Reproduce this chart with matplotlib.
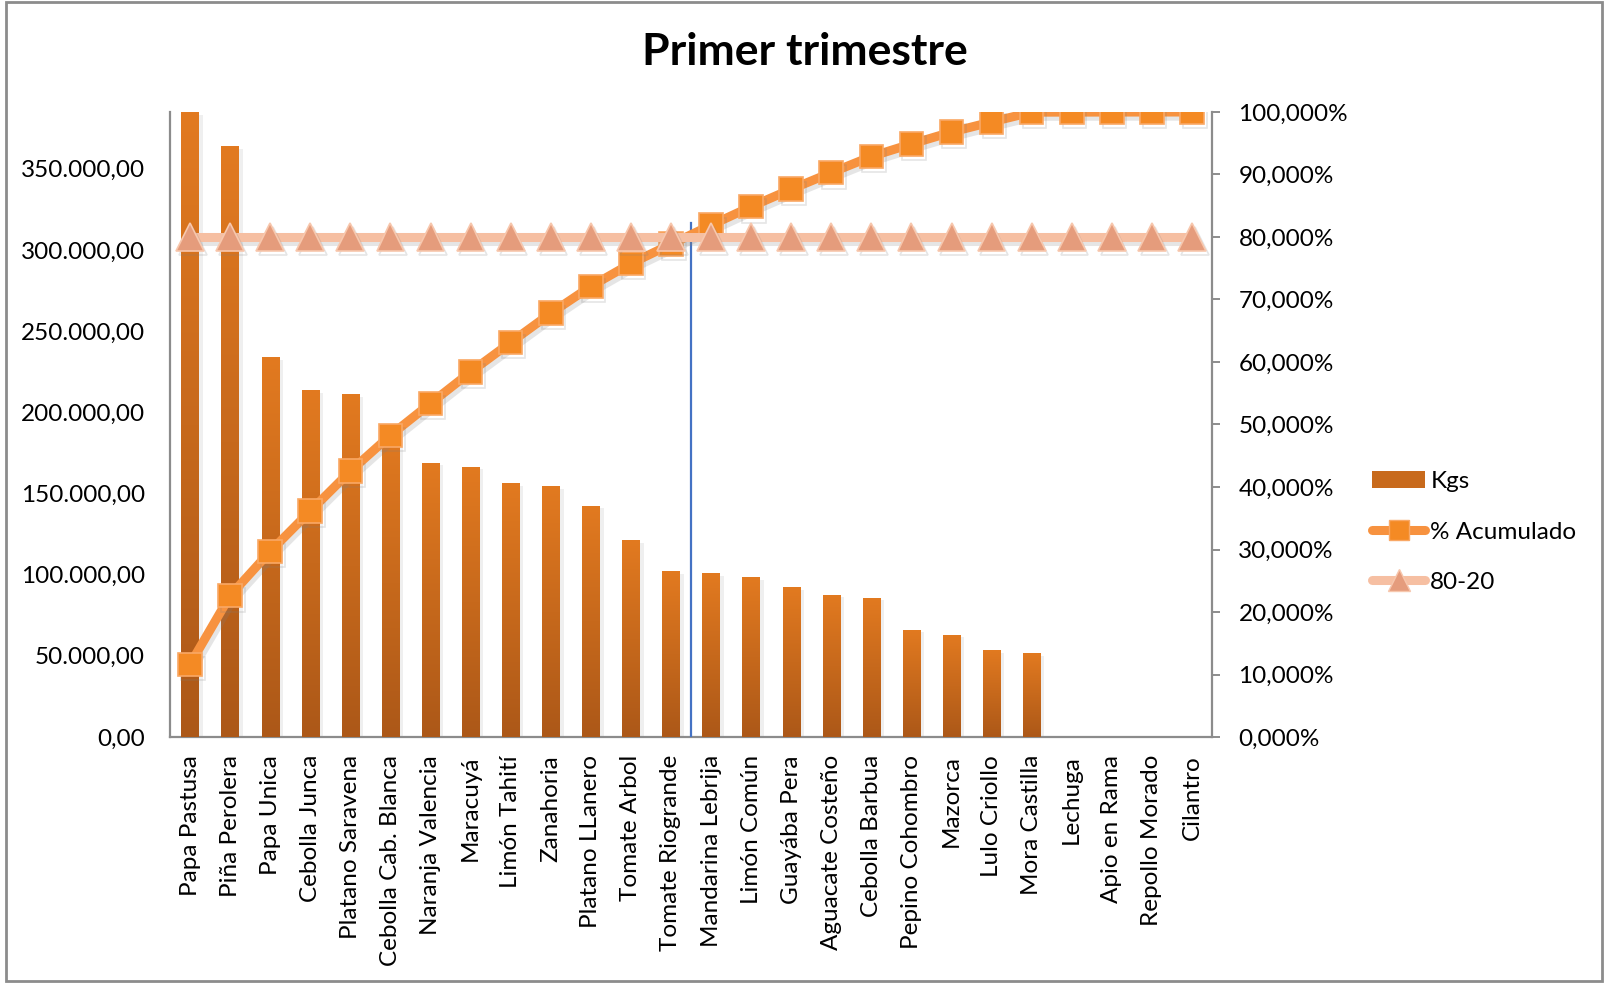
import numpy as np
import matplotlib
matplotlib.use("Agg")
import matplotlib.pyplot as plt
from matplotlib import patheffects as pe
from matplotlib.colors import LinearSegmentedColormap
from matplotlib.patches import Rectangle
from matplotlib.lines import Line2D
from matplotlib.ticker import FuncFormatter, MultipleLocator

plt.rcParams["font.family"] = ["Lato", "DejaVu Sans"]

# ---- data -------------------------------------------------------------
productos = [
    "Papa Pastusa", "Piña Perolera", "Papa Unica", "Cebolla Junca",
    "Platano Saravena", "Cebolla Cab. Blanca", "Naranja Valencia", "Maracuyá",
    "Limón Tahití", "Zanahoria", "Platano LLanero", "Tomate Arbol",
    "Tomate Riogrande", "Mandarina Lebrija", "Limón Común", "Guayába Pera",
    "Aguacate Costeño", "Cebolla Barbua", "Pepino Cohombro", "Mazorca",
    "Lulo Criollo", "Mora Castilla", "Lechuga", "Apio en Rama",
    "Repollo Morado", "Cilantro",
]
kgs = [
    385000, 364000, 234000, 213800, 211200, 190000, 169000, 166500,
    156400, 154500, 142500, 121100, 102200, 100900, 98400, 92100,
    87700, 85800, 66200, 63100, 53600, 51700, 300, 250, 200, 150,
]
regla_80_20 = [80.0] * len(productos)
corte_pct = 82.3          # height of the cut-off marker line (in %)
corte_pos = 12.5          # between "Tomate Riogrande" and "Mandarina Lebrija"

kgs_max = 385000
pct_ticks_step = 10
kgs_ticks_step = 50000

# Pareto cumulative share of each product
acumulado = np.cumsum(kgs) / np.sum(kgs) * 100.0

# ---- colours ----------------------------------------------------------
bar_top = "#E27A20"
bar_bottom = "#AC5818"
acum_line = "#F7923F"
acum_face = "#F48A24"
acum_edge = "#F9A865"
regla_line = "#F6BFA2"
regla_face = "#E59C7C"
regla_edge = "#F7C7AD"
axis_grey = "#8C8C8C"
corte_blue = "#4472C4"

W, H = 1604, 983
fig = plt.figure(figsize=(W / 100, H / 100), dpi=100)
fig.patch.set_facecolor("white")

x0, x1, y_top, y_bot = 170, 1212, 112, 737
ax = fig.add_axes([x0 / W, 1 - y_bot / H, (x1 - x0) / W, (y_bot - y_top) / H])
ax2 = ax.twinx()

x = np.arange(len(productos))
bar_w = 0.43
fs = 17.5

# bars with a soft drop shadow and a vertical gradient fill
bars = ax.bar(x, kgs, width=bar_w, color=bar_bottom, zorder=2,
              path_effects=[pe.SimplePatchShadow(offset=(3, -2), shadow_rgbFace="#b0b0b0", alpha=0.2),
                            pe.Normal()])
grad_cmap = LinearSegmentedColormap.from_list("bar_grad", [bar_bottom, bar_top])
grad = np.linspace(0, 1, 256).reshape(-1, 1)
for rect, xi, v in zip(bars, x, kgs):
    im = ax.imshow(grad, cmap=grad_cmap, origin="lower", aspect="auto",
                   extent=(xi - bar_w / 2, xi + bar_w / 2, 0, v), zorder=3)
    im.set_clip_path(rect)

ax.set_xlim(-0.5, len(productos) - 0.5)
ax.set_ylim(0, kgs_max)
ax.yaxis.set_major_locator(MultipleLocator(kgs_ticks_step))


def fmt_kgs(v, pos):
    s = f"{v:,.2f}"
    return s.replace(",", "X").replace(".", ",").replace("X", ".")


def fmt_pct(v, pos):
    return f"{v:.3f}%".replace(".", ",")


ax.yaxis.set_major_formatter(FuncFormatter(fmt_kgs))
ax.set_xticks(x)
ax.set_xticklabels(productos, rotation=90, ha="center", va="top", fontsize=fs)
ax.tick_params(axis="y", length=0, pad=18, labelsize=fs)
ax.tick_params(axis="x", length=0, pad=13)

for s in ["top", "right"]:
    ax.spines[s].set_visible(False)
for s in ["left", "bottom"]:
    ax.spines[s].set_color(axis_grey)
    ax.spines[s].set_linewidth(1.6)

# secondary axis: cumulative percentage and the 80-20 reference
ax2.set_ylim(0, 100)
ax2.yaxis.set_major_locator(MultipleLocator(pct_ticks_step))
ax2.yaxis.set_major_formatter(FuncFormatter(fmt_pct))
ax2.tick_params(axis="y", length=6, width=1.4, color=axis_grey, pad=13, labelsize=fs)
for s in ["top", "left", "bottom"]:
    ax2.spines[s].set_visible(False)
ax2.spines["right"].set_color(axis_grey)
ax2.spines["right"].set_linewidth(1.6)

ax2.plot([corte_pos, corte_pos], [0, corte_pct], color=corte_blue, lw=1.6, zorder=1)

shadow = [pe.SimpleLineShadow(offset=(2, -3), shadow_color="#808080", alpha=0.2), pe.Normal()]
ax2.plot(x, acumulado, color=acum_line, lw=6.5, marker="s", ms=17,
         mfc=acum_face, mec=acum_edge, mew=1.2, solid_capstyle="round",
         path_effects=shadow, zorder=3)
ax2.plot(x, regla_80_20, color=regla_line, lw=6.5, marker="^", ms=20,
         mfc=regla_face, mec=regla_edge, mew=1.2, solid_capstyle="round",
         path_effects=shadow, zorder=4)
ax2.set_xlim(-0.5, len(productos) - 0.5)

# title
fig.text(805 / W, 1 - 52 / H, "Primer trimestre", ha="center", va="center",
         fontsize=32, fontweight="bold")

# legend
handles = [
    Rectangle((0, 0), 1, 1, facecolor="#C86A1C", edgecolor="none"),
    Line2D([], [], color=acum_line, lw=6.5, marker="s", ms=14, mfc=acum_face,
           mec=acum_edge, solid_capstyle="round"),
    Line2D([], [], color=regla_line, lw=6.5, marker="^", ms=16, mfc=regla_face,
           mec=regla_edge, solid_capstyle="round"),
]
fig.legend(handles, ["Kgs", "% Acumulado", "80-20"], loc="center left",
           bbox_to_anchor=(1372 / W, 1 - 532 / H), frameon=False, fontsize=fs,
           handlelength=2.2, handletextpad=0.2, labelspacing=1.2,
           borderpad=0, borderaxespad=0)

# outer chart border
fig.patches.append(Rectangle((6 / W, 2 / H), (1602 - 6) / W, (981 - 2) / H,
                             transform=fig.transFigure, fill=False,
                             edgecolor=axis_grey, lw=2))

fig.savefig("out.png", dpi=100, facecolor="white")
